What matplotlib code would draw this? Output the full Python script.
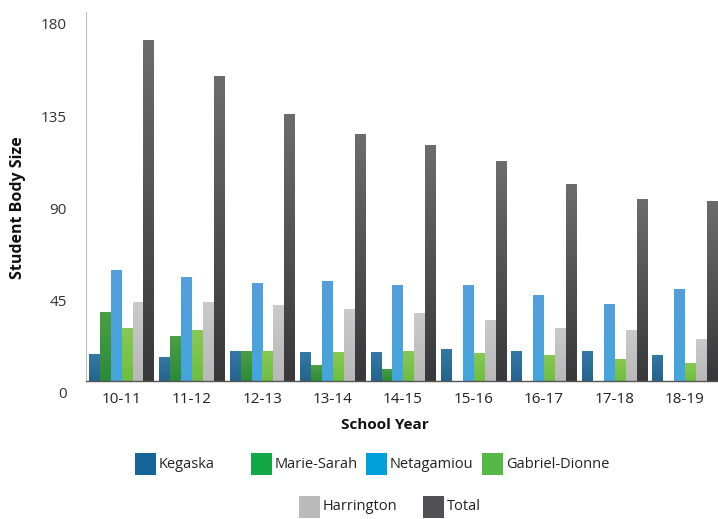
import matplotlib
matplotlib.use("Agg")
import matplotlib.pyplot as plt
import matplotlib.transforms as mtransforms
from matplotlib.colors import LinearSegmentedColormap
from matplotlib.patches import Rectangle
import numpy as np

plt.rcParams['font.family'] = ['Open Sans', 'DejaVu Sans']

years = ["10-11", "11-12", "12-13", "13-14", "14-15", "15-16", "16-17", "17-18", "18-19"]
series = ["Kegaska", "Marie-Sarah", "Netagamiou", "Gabriel-Dionne", "Harrington", "Total"]

kegaska = [13.0, 11.8, 14.8, 14.0, 14.0, 15.7, 14.8, 14.8, 12.8]
marie_sarah = [33.8, 21.9, 14.8, 7.8, 5.9, 0, 0, 0, 0]
netagamiou = [54.1, 50.6, 47.8, 48.8, 46.8, 46.8, 42.0, 37.7, 44.7]
gabriel_dionne = [25.7, 24.8, 14.8, 14.0, 14.8, 13.8, 12.8, 10.7, 8.6]
harrington = [38.7, 38.7, 36.9, 35.0, 33.0, 29.8, 25.7, 24.8, 20.7]
total = [166.2, 149.0, 130.1, 120.5, 115.1, 107.2, 96.1, 88.7, 87.9]

yticks = [0, 45, 90, 135, 180]

values = [kegaska, marie_sarah, netagamiou, gabriel_dionne, harrington, total]
# (bottom, top) colours of the bar gradients
bar_grad = [("#24638d", "#3479a6"), ("#2c8a38", "#4c9f42"), ("#44a6de", "#559fdb"),
            ("#6fbe40", "#88c953"), ("#b9b9b9", "#cacaca"), ("#38383a", "#6c6c6f")]
legend_colors = ["#14669a", "#12a845", "#00a0dc", "#55b847", "#bbbbbb", "#525054"]

fig = plt.figure(figsize=(7.18, 5.19), dpi=100)
ax = fig.add_axes([0.1198, 0.2659, 0.880, 0.711])

x = np.arange(len(years))
w = 0.155
grad = np.linspace(0, 1, 64).reshape(-1, 1)
for j, (vals, (c0, c1)) in enumerate(zip(values, bar_grad)):
    cmap = LinearSegmentedColormap.from_list("g%d" % j, [c0, c1])
    bars = ax.bar(x + (j - 2.5) * w, vals, width=w * 0.93, color=c0, linewidth=0)
    for b in bars:
        if b.get_height() <= 0:
            continue
        bx, by = b.get_x(), b.get_y()
        im = ax.imshow(grad, cmap=cmap, origin='lower', aspect='auto',
                       extent=(bx, bx + b.get_width(), by, by + b.get_height()),
                       interpolation='bilinear', zorder=b.get_zorder())
        im.set_clip_path(b)

ax.set_xlim(-0.5, 8.47)
ax.set_ylim(0, 180)
ax.set_yticks(yticks)
ax.set_yticklabels([str(t) for t in yticks])
ax.set_xticks(x)
ax.set_xticklabels(years)

ax.tick_params(axis='y', length=0, pad=14, labelsize=11, labelcolor="#333333")
ax.tick_params(axis='x', length=0, pad=8, labelsize=11, labelcolor="#222222")
offset = mtransforms.ScaledTranslation(0, -12 / 100, fig.dpi_scale_trans)
for lab in ax.get_yticklabels():
    lab.set_transform(lab.get_transform() + offset)

for s in ['top', 'right']:
    ax.spines[s].set_visible(False)
ax.spines['left'].set_color("#bbbbbb")
ax.spines['left'].set_linewidth(0.8)
ax.spines['bottom'].set_color("#555555")
ax.spines['bottom'].set_linewidth(1.0)

fig.text(385 / 718, 1 - 425 / 519, "School Year", ha='center', va='center',
         fontsize=11, fontweight='bold', color="#111111")
fig.text(18 / 718, 1 - 208 / 519, "Student Body Size", ha='center', va='center',
         rotation=90, fontsize=11.5, fontweight='bold', color="#111111")

# legend, two centred rows
legend_pos = [(135, 464), (251, 464), (366, 464), (482, 464), (299, 507), (423, 507)]
for name, col, (px, py) in zip(series, legend_colors, legend_pos):
    fig.add_artist(Rectangle((px / 718, 1 - (py + 11) / 519), 21 / 718, 22 / 519,
                             transform=fig.transFigure, color=col, linewidth=0))
    fig.text((px + 24) / 718, 1 - py / 519, name, ha='left', va='center',
             fontsize=10.5, color="#222222")

fig.savefig("out.png", dpi=100)
